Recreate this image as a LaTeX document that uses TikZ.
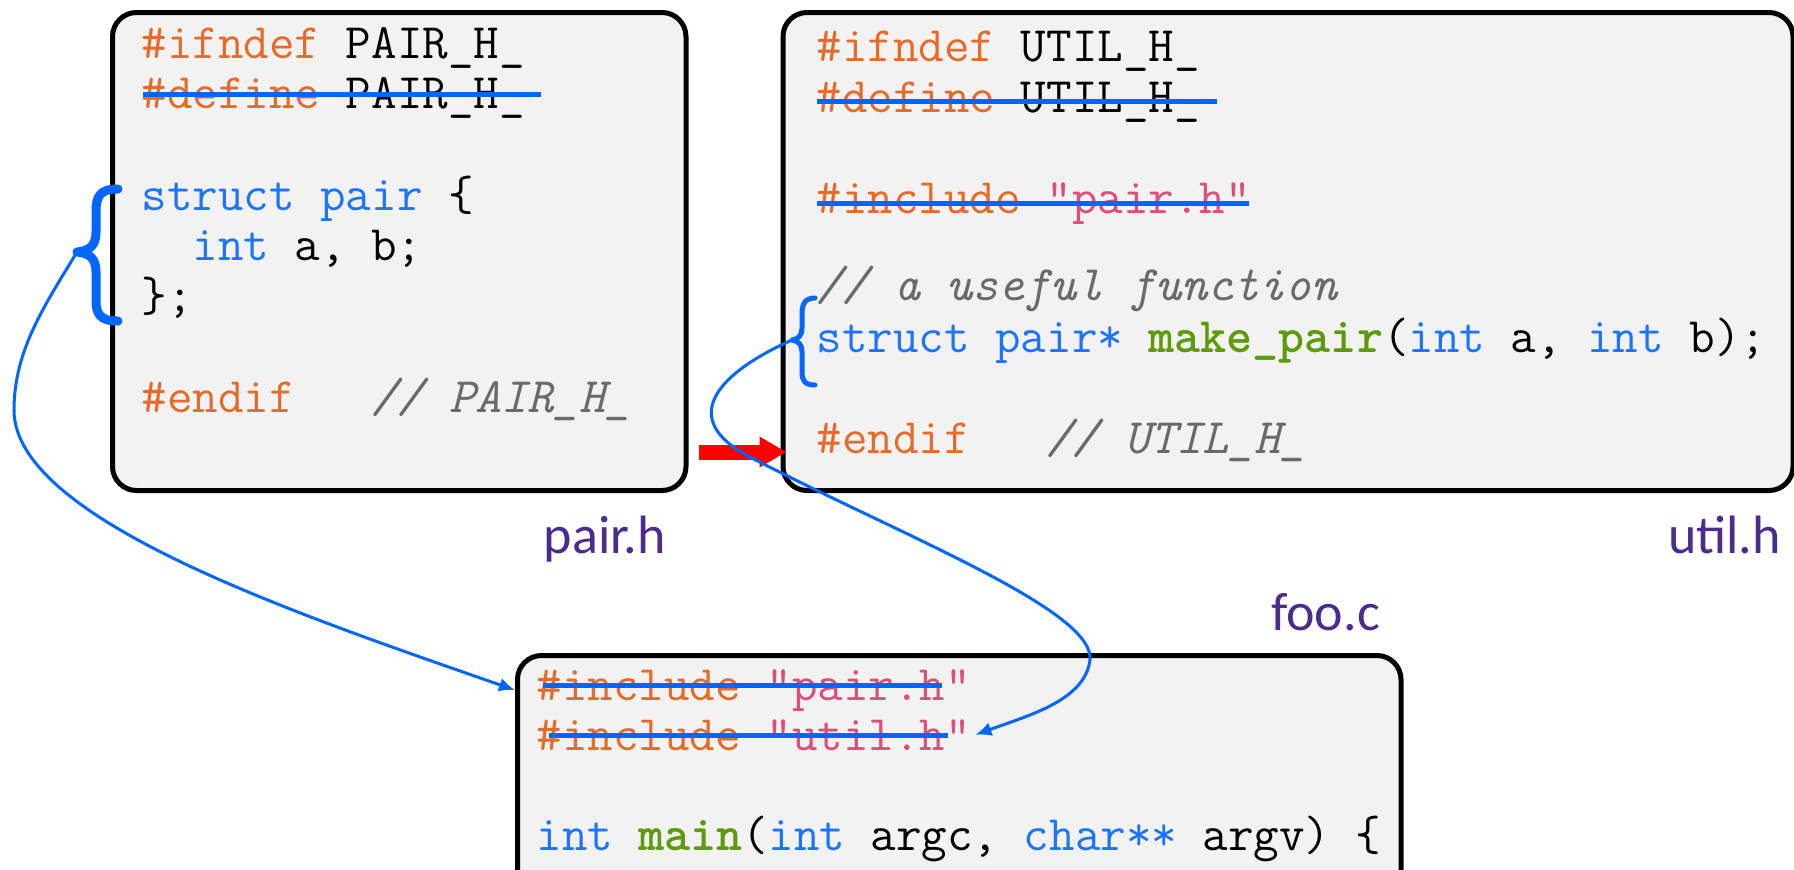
\documentclass[tikz,border=0pt]{standalone}
\usepackage{fontspec}
\setsansfont{Carlito}
\usepackage{xcolor}
\usetikzlibrary{arrows.meta,positioning,calc}

\definecolor{boxgray}{HTML}{F2F2F2}
\definecolor{ppcolor}{HTML}{E46C2B}
\definecolor{kwblue}{HTML}{1E74FF}
\definecolor{strpink}{HTML}{DB4F80}
\definecolor{cmtgray}{HTML}{6A6A6A}
\definecolor{fngreen}{HTML}{5E9A0A}
\definecolor{lblpurple}{HTML}{4B2C8C}
\definecolor{linkblue}{HTML}{0066FF}

\newcommand{\cpre}[1]{\textcolor{ppcolor}{#1}}
\newcommand{\ckw}[1]{\textcolor{kwblue}{#1}}
\newcommand{\cstr}[1]{\textcolor{strpink}{#1}}
\newcommand{\ccmt}[1]{\textcolor{cmtgray}{\itshape #1}}
\newcommand{\cfn}[1]{\textcolor{fngreen}{\bfseries #1}}

\begin{document}
\begin{tikzpicture}[x=0.5pt,y=-0.5pt,>={Latex[length=8pt,width=7pt]},semithick,
	codebox/.style={draw=black,line width=2.5pt,fill=boxgray,rounded corners=12pt,inner sep=0pt},
	code/.style={anchor=base west,inner sep=0pt,font=\ttfamily\fontsize{24.8pt}{27pt}\selectfont},
	filelabel/.style={anchor=base east,inner sep=0pt,text=lblpurple,font=\sffamily\fontsize{27pt}{30pt}\selectfont},
	strike/.style={linkblue,line width=2.5pt},
	bracket/.style={linkblue,line cap=round,line join=round},
	link/.style={->,linkblue,line width=1.5pt},
	redarrow/.style={-{Triangle[length=13.5pt,width=14.5pt]},red,line width=7.5pt,shorten >=-3pt}]

	\useasboundingbox (0,0) rectangle (1794,869);
	\clip (0,0) rectangle (1794,869);
	\fill[white] (0,0) rectangle (1794,869);

	\node[codebox,minimum width=286.75pt,minimum height=239pt] (pairbox) at (399.25,251.5) {};
	\node[codebox,minimum width=505pt,minimum height=239pt] (utilbox) at (1288,251.5) {};
	\node[codebox,minimum width=441.75pt,minimum height=152.25pt] (foobox) at (959.25,807.75) {};

	\node[code] (p1) at (141,58) {\cpre{\#ifndef} PAIR\_H\_};
	\node[code] (p2) at (141,108) {\cpre{\#define} PAIR\_H\_};
	\node[code] (p3) at (141,210) {\ckw{struct pair} \{};
	\node[code] (p4) at (141,260) {~~\ckw{int} a, b;};
	\node[code] (p5) at (141,311) {\};};
	\node[code] (p6) at (141,412) {\cpre{\#endif}~~~\ccmt{// PAIR\_H\_}};

	\node[code] (u1) at (816,61) {\cpre{\#ifndef} UTIL\_H\_};
	\node[code] (u2) at (816,112) {\cpre{\#define} UTIL\_H\_};
	\node[code] (u3) at (816,213) {\cpre{\#include} \cstr{"pair.h"}};
	\node[code] (u4) at (816,300) {\ccmt{// a useful function}};
	\node[code] (u5) at (816,352) {\ckw{struct pair*} \cfn{make\_pair}(\ckw{int} a, \ckw{int} b);};
	\node[code] (u6) at (816,453) {\cpre{\#endif}~~~\ccmt{// UTIL\_H\_}};

	\node[code] (f1) at (536,700) {\cpre{\#include} \cstr{"pair.h"}};
	\node[code] (f2) at (536,750) {\cpre{\#include} \cstr{"util.h"}};
	\node[code] (f3) at (536,850) {\ckw{int} \cfn{main}(\ckw{int} argc, \ckw{char**} argv) \{};

	\node[filelabel] (pairname) at ($(pairbox.south east)+(-22,60)$) {pair.h};
	\node[filelabel] (utilname) at ($(utilbox.south east)+(-14,60)$) {util.h};
	\node[filelabel] (fooname) at ($(foobox.north east)+(-23,-23)$) {foo.c};

	\draw[strike] (143,94) -- (541,94);
	\draw[strike] (817,101) -- (1217,101);
	\draw[strike] (817,203) -- (1249,203);
	\draw[strike] (543,685) -- (942,685);
	\draw[strike] (549,735) -- (948,735);

	\draw[bracket,line width=4.5pt] (118,189) .. controls (100,189) and (96,196) .. (96,212) -- (96,232) .. controls (96,245) and (90,251) .. (77,252) .. controls (90,253) and (96,259) .. (96,272) -- (96,300) .. controls (96,314) and (100,321) .. (118,321);
	\draw[bracket,line width=2.5pt] (815,298) .. controls (805,298) and (802,304) .. (802,314) -- (802,328) .. controls (802,335) and (799,339) .. (792,340) .. controls (799,341) and (802,345) .. (802,352) -- (802,372) .. controls (802,381) and (805,385) .. (815,385);

	\coordinate (pairtip) at (77,252);
	\coordinate (utiltip) at (792,340);
	\coordinate (redstart) at (699,452);

	\draw[redarrow] (redstart) -- (utilbox.west |- redstart);

	\draw[link] (pairtip) .. controls (45,305) and (14,350) .. (14,410) .. controls (14,520) and (300,615) .. (foobox.west |- f1);
	\draw[link] (utiltip) .. controls (720,372) and (675,418) .. (750,457) .. controls (900,535) and (1095,610) .. (1090,660) .. controls (1085,700) and (1030,715) .. ([xshift=2pt]f2.east);
\end{tikzpicture}
\end{document}
